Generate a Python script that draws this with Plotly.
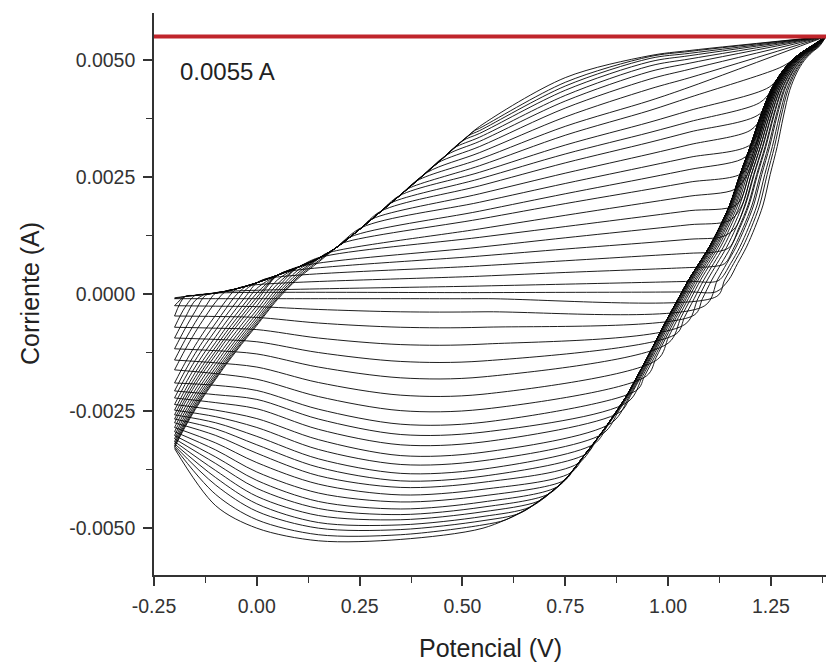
import numpy as np
import plotly.graph_objects as go

# ---------------------------------------------------------------
# Voltamperometría cíclica: 25 ciclos entre -0.2 V y 1.384 V.
# Corrientes en mA (se convierten a A al dibujar).
# ---------------------------------------------------------------

LIMITE_MA = 5.5          # corriente límite marcada (0.0055 A)
V_MIN, V_MAX = -0.2, 1.384

# Rama de subida del último ciclo y borde superior de la zona izquierda
IZQ_V = [-0.2, -0.175, -0.15, -0.125, -0.1, -0.075, -0.05, -0.025, 0.0,
         0.05, 0.1, 0.15, 0.19, 0.25, 0.3, 0.35, 0.4, 0.45, 0.5]
SUBIDA_I = [-3.30, -2.88, -2.50, -2.16, -1.85, -1.54, -1.25, -0.97, -0.70,
            -0.15, 0.30, 0.65, 0.95, 1.38, 1.75, 2.12, 2.50, 2.88, 3.27]
BORDE_SUP_I = [-0.08, -0.055, -0.03, -0.005, 0.02, 0.06, 0.11, 0.17, 0.24,
               0.40, 0.57, 0.76, 0.97, 1.38, 1.75, 2.12, 2.50, 2.88, 3.27]

# Banda derecha (subida anódica / bajada catódica común)
BANDA_V = [0.55, 0.575, 0.6, 0.625, 0.65, 0.675, 0.7, 0.725, 0.75, 0.775,
           0.8, 0.825, 0.85, 0.875, 0.9, 0.925, 0.95, 0.975, 1.0, 1.025,
           1.05, 1.075, 1.1, 1.125, 1.15, 1.175, 1.2, 1.225, 1.25, 1.275,
           1.3, 1.325, 1.35, 1.384]
BANDA_I = [-5.00, -4.93, -4.84, -4.75, -4.63, -4.49, -4.33, -4.16, -3.96, -3.69,
           -3.40, -3.12, -2.82, -2.50, -2.16, -1.76, -1.35, -0.92, -0.50, -0.10,
           0.30, 0.65, 1.00, 1.42, 1.90, 2.55, 3.15, 3.80, 4.35, 4.72,
           4.98, 5.16, 5.30, 5.50]

# --- Barrido anódico, por ciclo ---
SALIDA_V = [-0.10, -0.08, -0.02, 0.025, 0.075, 0.105, 0.15, 0.17, 0.21, 0.228,
            0.255, 0.28, 0.302, 0.325, 0.347, 0.368, 0.39, 0.415, 0.44, 0.462,
            0.48, 0.50, 0.515, 0.53, 0.542]
SALIDA_I = [0.02, 0.05, 0.18, 0.33, 0.48, 0.59, 0.775, 0.87, 1.09, 1.22,
            1.42, 1.60, 1.77, 1.94, 2.10, 2.25, 2.42, 2.60, 2.80, 2.97,
            3.12, 3.27, 3.38, 3.49, 3.58]
ANOD_054 = [0.03, 0.17, 0.38, 0.60, 0.81, 1.00, 1.21, 1.39, 1.60, 1.77,
            1.96, 2.14, 2.31, 2.46, 2.60, 2.74, 2.88, 3.02, 3.15, 3.26,
            3.35, 3.43, 3.49, 3.54, 3.58]
ANOD_075 = [0.035, 0.21, 0.46, 0.71, 0.96, 1.20, 1.44, 1.68, 1.93, 2.14,
            2.36, 2.58, 2.80, 2.99, 3.18, 3.39, 3.58, 3.78, 3.97, 4.12,
            4.24, 4.35, 4.44, 4.52, 4.62]
ANOD_096 = [0.04, 0.25, 0.53, 0.82, 1.10, 1.39, 1.67, 1.96, 2.24, 2.49,
            2.74, 2.99, 3.24, 3.45, 3.67, 3.92, 4.13, 4.38, 4.59, 4.75,
            4.87, 4.96, 5.03, 5.07, 5.09]
ANOD_105 = [0.045, 0.27, 0.565, 0.87, 1.17, 1.48, 1.78, 2.09, 2.39, 2.66,
            2.92, 3.19, 3.46, 3.68, 3.92, 4.20, 4.42, 4.62, 4.80, 4.93,
            5.02, 5.09, 5.14, 5.18, 5.20]
DESV_ANOD = [0.10, 0.082, 0.067, 0.055, 0.045, 0.037, 0.030, 0.024, 0.019, 0.015,
             0.011, 0.008, 0.006, 0.004, 0.002, 0.001, 0, 0, 0, 0,
             0, 0, 0, 0, 0]

# --- Barrido catódico, por ciclo ---
DESV_CAT = [0.09, 0.072, 0.058, 0.047, 0.038, 0.030, 0.024, 0.019, 0.015, 0.011,
            0.008, 0.006, 0.004, 0.002, 0.001, 0, 0, 0, 0, 0,
            0, 0, 0, 0, 0]
DEP_I = [-0.05, -0.25, -0.45, -0.65, -0.85, -1.05, -1.40, -1.75, -2.05, -2.30,
         -2.52, -2.75, -2.98, -3.20, -3.42, -3.62, -3.82, -3.98, -4.12, -4.28,
         -4.42, -4.55, -4.68, -4.82, -5.00]
CAT_055 = [-0.10, -0.38, -0.71, -1.07, -1.43, -1.77, -2.14, -2.46, -2.74, -2.95,
           -3.16, -3.38, -3.56, -3.74, -3.89, -4.02, -4.17, -4.31, -4.44, -4.55,
           -4.65, -4.75, -4.84, -4.93, -5.02]
CAT_035 = [-0.10, -0.38, -0.71, -1.08, -1.44, -1.79, -2.16, -2.49, -2.78, -3.00,
           -3.22, -3.45, -3.64, -3.83, -3.99, -4.13, -4.29, -4.44, -4.59, -4.71,
           -4.82, -4.93, -5.03, -5.14, -5.24]
CAT_015 = [-0.10, -0.33, -0.62, -0.94, -1.25, -1.56, -1.89, -2.19, -2.46, -2.67,
           -2.89, -3.11, -3.32, -3.52, -3.70, -3.88, -4.06, -4.25, -4.43, -4.58,
           -4.73, -4.88, -5.00, -5.14, -5.27]
CAT_000 = [-0.10, -0.27, -0.50, -0.76, -1.02, -1.28, -1.56, -1.82, -2.06, -2.25,
           -2.45, -2.66, -2.85, -3.04, -3.22, -3.40, -3.60, -3.80, -3.98, -4.15,
           -4.32, -4.48, -4.64, -4.82, -5.00]
CAT_M010 = [-0.10, -0.26, -0.48, -0.73, -0.97, -1.21, -1.47, -1.70, -1.95, -2.15,
            -2.32, -2.48, -2.62, -2.75, -2.88, -3.02, -3.18, -3.33, -3.48, -3.62,
            -3.77, -3.92, -4.08, -4.28, -4.52]
CAT_FIN = [-0.10, -0.25, -0.47, -0.71, -0.94, -1.17, -1.41, -1.62, -1.90, -2.07,
           -2.22, -2.36, -2.48, -2.58, -2.67, -2.75, -2.85, -2.94, -3.02, -3.09,
           -3.15, -3.20, -3.24, -3.27, -3.30]

ANOD_INICIO = [-0.08] + CAT_FIN[:-1]   # cada ciclo arranca donde terminó el anterior

# Ejes
X_TICKS = [-0.25, 0.0, 0.25, 0.5, 0.75, 1.0, 1.25]
X_TEXT = ["-0.25", "0.00", "0.25", "0.50", "0.75", "1.00", "1.25"]
X_MINOR = [-0.125, 0.125, 0.375, 0.625, 0.875, 1.125, 1.375]
Y_TICKS = [-0.005, -0.0025, 0.0, 0.0025, 0.005]
Y_TEXT = ["-0.0050", "-0.0025", "0.0000", "0.0025", "0.0050"]
Y_MINOR = [-0.00375, -0.00125, 0.00125, 0.00375]

N = len(CAT_FIN)
FONT = "Liberation Sans, Arial, Helvetica, sans-serif"
LINEA = dict(color="rgba(5,5,5,0.9)", width=1.0, shape="spline", smoothing=0.9)


def atenuacion(i_ma):
    """Reparto del desplazamiento de la banda: nulo en el vértice superior."""
    return np.sqrt(max(0.0, LIMITE_MA - i_ma) / LIMITE_MA)


fig = go.Figure()

for k in range(N):
    # ---- rama anódica ----
    xa, ya = [], []
    desplaz = ANOD_INICIO[k] - SUBIDA_I[0]
    for v, b, t in zip(IZQ_V, SUBIDA_I, BORDE_SUP_I):
        if v < SALIDA_V[k] - 0.015:
            xa.append(v)
            ya.append(min(b + desplaz, t))
    if SALIDA_V[k] < 0.54:
        xa.append(SALIDA_V[k])
        ya.append(SALIDA_I[k])
    xa += [0.542, 0.75, 0.956, 1.053]
    ya += [ANOD_054[k], ANOD_075[k], ANOD_096[k], ANOD_105[k]]

    # la recta del ciclo sigue hasta encontrar la banda derecha
    pend = (ANOD_105[k] - ANOD_096[k]) / (1.053 - 0.956)

    def recta(v):
        return ANOD_105[k] + pend * (v - 1.053)

    subida = []
    for v, i in zip(BANDA_V, BANDA_I):
        vv = v + DESV_ANOD[k] * atenuacion(i)
        if v == BANDA_V[-1] or (vv > 1.07 and i > recta(vv) + 0.05):
            subida.append((vv, i))
    v0 = subida[0][0] - 0.03
    if len(subida) > 1 and v0 > 1.08:
        xa.append(v0)
        ya.append(recta(v0))
    for vv, i in subida:
        xa.append(vv)
        ya.append(i)
    fig.add_trace(go.Scatter(x=xa, y=np.array(ya) / 1000.0, mode="lines",
                             line=LINEA, hoverinfo="skip"))

    # ---- rama catódica ----
    xc, yc = [], []
    for v, i in zip(reversed(BANDA_V), reversed(BANDA_I)):
        if i > DEP_I[k] + 0.25:
            xc.append(v + DESV_CAT[k] * atenuacion(i))
            yc.append(i)
    vd = float(np.interp(DEP_I[k], BANDA_I, BANDA_V)) + DESV_CAT[k] * atenuacion(DEP_I[k])
    xc.append(vd)
    yc.append(DEP_I[k])
    for v, col in [(0.55, CAT_055), (0.35, CAT_035), (0.15, CAT_015),
                   (0.0, CAT_000), (-0.1, CAT_M010), (V_MIN, CAT_FIN)]:
        if v < vd - 0.03:
            xc.append(v)
            yc.append(col[k])
    fig.add_trace(go.Scatter(x=xc, y=np.array(yc) / 1000.0, mode="lines",
                             line=LINEA, hoverinfo="skip"))

# Línea de corriente límite
fig.add_trace(go.Scatter(x=[-0.25, V_MAX], y=[LIMITE_MA / 1000.0] * 2, mode="lines",
                         line=dict(color="#c0252c", width=4), hoverinfo="skip"))

fig.add_annotation(x=-0.192, y=0.00476, xref="x", yref="y", text="0.0055 A",
                   showarrow=False, xanchor="left", yanchor="middle",
                   font=dict(family=FONT, size=24, color="#222"))

fig.add_annotation(x=0, y=0.5, xref="paper", yref="paper", text="Corriente (A)",
                   showarrow=False, textangle=-90, xanchor="center", yanchor="middle",
                   xshift=-124, font=dict(family=FONT, size=25, color="#222"))
fig.add_annotation(x=0.5, y=0, xref="paper", yref="paper", text="Potencial (V)",
                   showarrow=False, xanchor="center", yanchor="middle",
                   yshift=-73, font=dict(family=FONT, size=25, color="#222"))

eje = dict(showline=True, linecolor="#333", linewidth=1.6, showgrid=False,
           zeroline=False, ticks="outside", ticklen=9, tickwidth=1.5, tickcolor="#333",
           tickfont=dict(family=FONT, size=19.5, color="#333"), ticklabelstandoff=4)

fig.update_xaxes(range=[-0.25, V_MAX], tickmode="array", tickvals=X_TICKS, ticktext=X_TEXT,
                 minor=dict(tickmode="array", tickvals=X_MINOR, ticks="outside",
                            ticklen=6, tickwidth=1.3, tickcolor="#333", showgrid=False),
                 **eje)
fig.update_yaxes(range=[-0.006, 0.006], tickmode="array", tickvals=Y_TICKS, ticktext=Y_TEXT,
                 minor=dict(tickmode="array", tickvals=Y_MINOR, ticks="outside",
                            ticklen=6, tickwidth=1.3, tickcolor="#333", showgrid=False),
                 **eje)

fig.update_layout(width=828, height=662, margin=dict(l=154, r=2, t=13, b=87),
                  paper_bgcolor="white", plot_bgcolor="white", showlegend=False,
                  hovermode=False)

fig.write_html("out.html", config={"displayModeBar": False})
